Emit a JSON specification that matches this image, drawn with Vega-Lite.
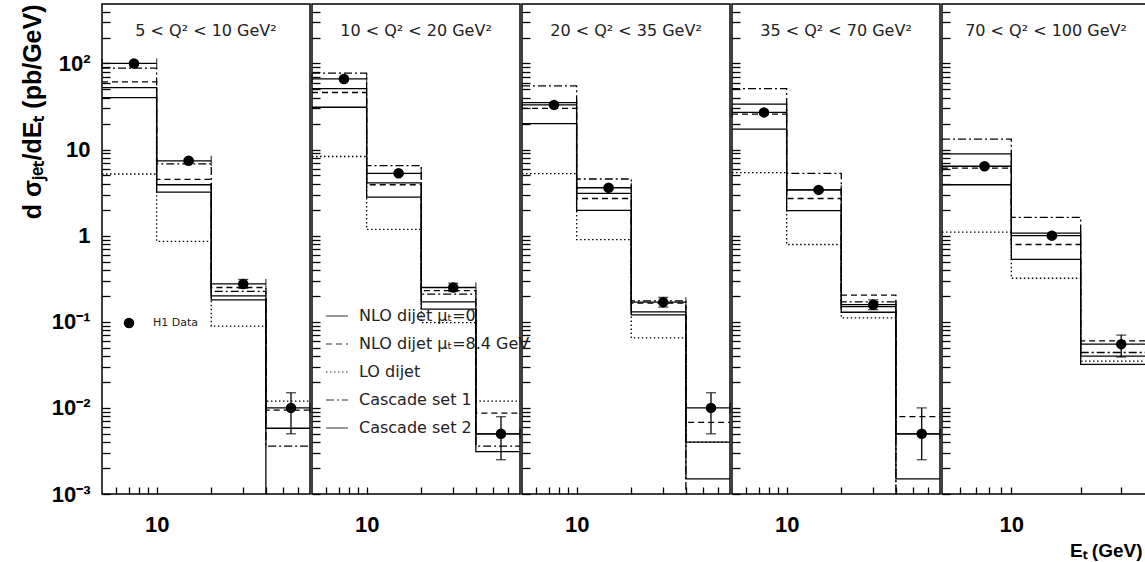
{
  "$schema": "https://vega.github.io/schema/vega-lite/v6.json",
  "background": "white",
  "padding": {"left": 19, "top": 3, "right": 0, "bottom": 0},
  "spacing": -7,
  "datasets": {
    "models": [
      {"p":1,"s":"NLO dijet μₜ=0","e":5,"v":40},{"p":1,"s":"NLO dijet μₜ=0","e":10,"v":3.2},{"p":1,"s":"NLO dijet μₜ=0","e":20,"v":0.18},{"p":1,"s":"NLO dijet μₜ=0","e":40,"v":0.0005},{"p":1,"s":"NLO dijet μₜ=0","e":70,"v":0.0005},
      {"p":1,"s":"NLO dijet μₜ=8.4 GeV","e":5,"v":61},{"p":1,"s":"NLO dijet μₜ=8.4 GeV","e":10,"v":4.5},{"p":1,"s":"NLO dijet μₜ=8.4 GeV","e":20,"v":0.25},{"p":1,"s":"NLO dijet μₜ=8.4 GeV","e":40,"v":0.0094},{"p":1,"s":"NLO dijet μₜ=8.4 GeV","e":70,"v":0.0094},
      {"p":1,"s":"LO dijet","e":5,"v":5.2},{"p":1,"s":"LO dijet","e":10,"v":0.86},{"p":1,"s":"LO dijet","e":20,"v":0.089},{"p":1,"s":"LO dijet","e":40,"v":0.012},{"p":1,"s":"LO dijet","e":70,"v":0.012},
      {"p":1,"s":"Cascade set 1","e":5,"v":88},{"p":1,"s":"Cascade set 1","e":10,"v":6.8},{"p":1,"s":"Cascade set 1","e":20,"v":0.225},{"p":1,"s":"Cascade set 1","e":40,"v":0.0036},{"p":1,"s":"Cascade set 1","e":70,"v":0.0036},
      {"p":1,"s":"Cascade set 2","e":5,"v":52.5},{"p":1,"s":"Cascade set 2","e":10,"v":3.9},{"p":1,"s":"Cascade set 2","e":20,"v":0.2},{"p":1,"s":"Cascade set 2","e":40,"v":0.0058},{"p":1,"s":"Cascade set 2","e":70,"v":0.0058},

      {"p":2,"s":"NLO dijet μₜ=0","e":5,"v":31},{"p":2,"s":"NLO dijet μₜ=0","e":10,"v":2.8},{"p":2,"s":"NLO dijet μₜ=0","e":20,"v":0.14},{"p":2,"s":"NLO dijet μₜ=0","e":40,"v":0.0031},{"p":2,"s":"NLO dijet μₜ=0","e":70,"v":0.0031},
      {"p":2,"s":"NLO dijet μₜ=8.4 GeV","e":5,"v":46},{"p":2,"s":"NLO dijet μₜ=8.4 GeV","e":10,"v":3.9},{"p":2,"s":"NLO dijet μₜ=8.4 GeV","e":20,"v":0.23},{"p":2,"s":"NLO dijet μₜ=8.4 GeV","e":40,"v":0.0087},{"p":2,"s":"NLO dijet μₜ=8.4 GeV","e":70,"v":0.0087},
      {"p":2,"s":"LO dijet","e":5,"v":8.3},{"p":2,"s":"LO dijet","e":10,"v":1.18},{"p":2,"s":"LO dijet","e":20,"v":0.098},{"p":2,"s":"LO dijet","e":40,"v":0.012},{"p":2,"s":"LO dijet","e":70,"v":0.012},
      {"p":2,"s":"Cascade set 1","e":5,"v":77},{"p":2,"s":"Cascade set 1","e":10,"v":6.5},{"p":2,"s":"Cascade set 1","e":20,"v":0.21},{"p":2,"s":"Cascade set 1","e":40,"v":0.0036},{"p":2,"s":"Cascade set 1","e":70,"v":0.0036},
      {"p":2,"s":"Cascade set 2","e":5,"v":51},{"p":2,"s":"Cascade set 2","e":10,"v":4.1},{"p":2,"s":"Cascade set 2","e":20,"v":0.17},{"p":2,"s":"Cascade set 2","e":40,"v":0.005},{"p":2,"s":"Cascade set 2","e":70,"v":0.005},

      {"p":3,"s":"NLO dijet μₜ=0","e":5,"v":20},{"p":3,"s":"NLO dijet μₜ=0","e":10,"v":1.97},{"p":3,"s":"NLO dijet μₜ=0","e":20,"v":0.12},{"p":3,"s":"NLO dijet μₜ=0","e":40,"v":0.0015},{"p":3,"s":"NLO dijet μₜ=0","e":70,"v":0.0015},
      {"p":3,"s":"NLO dijet μₜ=8.4 GeV","e":5,"v":30},{"p":3,"s":"NLO dijet μₜ=8.4 GeV","e":10,"v":2.7},{"p":3,"s":"NLO dijet μₜ=8.4 GeV","e":20,"v":0.165},{"p":3,"s":"NLO dijet μₜ=8.4 GeV","e":40,"v":0.0068},{"p":3,"s":"NLO dijet μₜ=8.4 GeV","e":70,"v":0.0068},
      {"p":3,"s":"LO dijet","e":5,"v":5.25},{"p":3,"s":"LO dijet","e":10,"v":0.9},{"p":3,"s":"LO dijet","e":20,"v":0.065},{"p":3,"s":"LO dijet","e":40,"v":0.004},{"p":3,"s":"LO dijet","e":70,"v":0.004},
      {"p":3,"s":"Cascade set 1","e":5,"v":55},{"p":3,"s":"Cascade set 1","e":10,"v":4.55},{"p":3,"s":"Cascade set 1","e":20,"v":0.175},{"p":3,"s":"Cascade set 1","e":40,"v":0.0005},{"p":3,"s":"Cascade set 1","e":70,"v":0.0005},
      {"p":3,"s":"Cascade set 2","e":5,"v":35},{"p":3,"s":"Cascade set 2","e":10,"v":3.1},{"p":3,"s":"Cascade set 2","e":20,"v":0.13},{"p":3,"s":"Cascade set 2","e":40,"v":0.004},{"p":3,"s":"Cascade set 2","e":70,"v":0.004},

      {"p":4,"s":"NLO dijet μₜ=0","e":5,"v":17.3},{"p":4,"s":"NLO dijet μₜ=0","e":10,"v":1.95},{"p":4,"s":"NLO dijet μₜ=0","e":20,"v":0.129},{"p":4,"s":"NLO dijet μₜ=0","e":40,"v":0.0015},{"p":4,"s":"NLO dijet μₜ=0","e":70,"v":0.0015},
      {"p":4,"s":"NLO dijet μₜ=8.4 GeV","e":5,"v":25.8},{"p":4,"s":"NLO dijet μₜ=8.4 GeV","e":10,"v":2.7},{"p":4,"s":"NLO dijet μₜ=8.4 GeV","e":20,"v":0.204},{"p":4,"s":"NLO dijet μₜ=8.4 GeV","e":40,"v":0.0079},{"p":4,"s":"NLO dijet μₜ=8.4 GeV","e":70,"v":0.0079},
      {"p":4,"s":"LO dijet","e":5,"v":5.4},{"p":4,"s":"LO dijet","e":10,"v":0.79},{"p":4,"s":"LO dijet","e":20,"v":0.111},{"p":4,"s":"LO dijet","e":40,"v":0.0005},{"p":4,"s":"LO dijet","e":70,"v":0.0005},
      {"p":4,"s":"Cascade set 1","e":5,"v":51},{"p":4,"s":"Cascade set 1","e":10,"v":5.3},{"p":4,"s":"Cascade set 1","e":20,"v":0.17},{"p":4,"s":"Cascade set 1","e":40,"v":0.0005},{"p":4,"s":"Cascade set 1","e":70,"v":0.0005},
      {"p":4,"s":"Cascade set 2","e":5,"v":33.7},{"p":4,"s":"Cascade set 2","e":10,"v":3.4},{"p":4,"s":"Cascade set 2","e":20,"v":0.15},{"p":4,"s":"Cascade set 2","e":40,"v":0.005},{"p":4,"s":"Cascade set 2","e":70,"v":0.005},

      {"p":5,"s":"NLO dijet μₜ=0","e":5,"v":3.9},{"p":5,"s":"NLO dijet μₜ=0","e":10,"v":0.53},{"p":5,"s":"NLO dijet μₜ=0","e":20,"v":0.032},{"p":5,"s":"NLO dijet μₜ=0","e":40,"v":0.032},
      {"p":5,"s":"NLO dijet μₜ=8.4 GeV","e":5,"v":6.1},{"p":5,"s":"NLO dijet μₜ=8.4 GeV","e":10,"v":0.79},{"p":5,"s":"NLO dijet μₜ=8.4 GeV","e":20,"v":0.06},{"p":5,"s":"NLO dijet μₜ=8.4 GeV","e":40,"v":0.06},
      {"p":5,"s":"LO dijet","e":5,"v":1.1},{"p":5,"s":"LO dijet","e":10,"v":0.32},{"p":5,"s":"LO dijet","e":20,"v":0.035},{"p":5,"s":"LO dijet","e":40,"v":0.035},
      {"p":5,"s":"Cascade set 1","e":5,"v":13.2},{"p":5,"s":"Cascade set 1","e":10,"v":1.63},{"p":5,"s":"Cascade set 1","e":20,"v":0.044},{"p":5,"s":"Cascade set 1","e":40,"v":0.044},
      {"p":5,"s":"Cascade set 2","e":5,"v":8.9},{"p":5,"s":"Cascade set 2","e":10,"v":1.07},{"p":5,"s":"Cascade set 2","e":20,"v":0.04},{"p":5,"s":"Cascade set 2","e":40,"v":0.04}
    ],
    "h1": [
      {"p":1,"src":"H1 Data","x":7.5,"y":100,"lo":96,"hi":104,"x1":5,"x2":10},
      {"p":1,"src":"H1 Data","x":15,"y":7.4,"lo":7.1,"hi":7.7,"x1":10,"x2":20},
      {"p":1,"src":"H1 Data","x":30,"y":0.275,"lo":0.245,"hi":0.31,"x1":20,"x2":40},
      {"p":1,"src":"H1 Data","x":55,"y":0.01,"lo":0.005,"hi":0.015,"x1":40,"x2":70},
      {"p":2,"src":"H1 Data","x":7.5,"y":66,"lo":63,"hi":69,"x1":5,"x2":10},
      {"p":2,"src":"H1 Data","x":15,"y":5.3,"lo":5.1,"hi":5.5,"x1":10,"x2":20},
      {"p":2,"src":"H1 Data","x":30,"y":0.25,"lo":0.225,"hi":0.28,"x1":20,"x2":40},
      {"p":2,"src":"H1 Data","x":55,"y":0.005,"lo":0.0025,"hi":0.0079,"x1":40,"x2":70},
      {"p":3,"src":"H1 Data","x":7.5,"y":33,"lo":31.7,"hi":34.3,"x1":5,"x2":10},
      {"p":3,"src":"H1 Data","x":15,"y":3.6,"lo":3.45,"hi":3.75,"x1":10,"x2":20},
      {"p":3,"src":"H1 Data","x":30,"y":0.169,"lo":0.148,"hi":0.192,"x1":20,"x2":40},
      {"p":3,"src":"H1 Data","x":55,"y":0.01,"lo":0.005,"hi":0.015,"x1":40,"x2":70},
      {"p":4,"src":"H1 Data","x":7.5,"y":27,"lo":25.9,"hi":28.1,"x1":5,"x2":10},
      {"p":4,"src":"H1 Data","x":15,"y":3.4,"lo":3.26,"hi":3.54,"x1":10,"x2":20},
      {"p":4,"src":"H1 Data","x":30,"y":0.158,"lo":0.138,"hi":0.18,"x1":20,"x2":40},
      {"p":4,"src":"H1 Data","x":55.5,"y":0.005,"lo":0.0025,"hi":0.01,"x1":40,"x2":70},
      {"p":5,"src":"H1 Data","x":7.65,"y":6.4,"lo":6.1,"hi":6.7,"x1":5,"x2":10},
      {"p":5,"src":"H1 Data","x":15,"y":1.0,"lo":0.95,"hi":1.05,"x1":10,"x2":20},
      {"p":5,"src":"H1 Data","x":30,"y":0.055,"lo":0.039,"hi":0.07,"x1":20,"x2":40}
    ]
  },
  "hconcat": [
    {
      "width": 208, "height": 490,
      "title": {"text": "5 < Q² < 10 GeV²"},
      "layer": [
        {
          "data": {"name": "models"},
          "transform": [{"filter": "datum.p == 1"}],
          "mark": {"type": "line", "interpolate": "step-after", "clip": true, "color": "black", "strokeWidth": 1.3},
          "encoding": {
            "x": {"field": "e", "type": "quantitative", "scale": {"type": "log", "domain": [5, 70], "nice": false},
                  "axis": {"orient": "bottom", "values": [6,7,8,9,10,20,30,40,50,60], "labelExpr": "datum.value == 10 ? '10' : ''", "tickSize": 7, "offset": -7, "labelPadding": 20, "labelFlush": false, "labelBaseline": "top", "labelFontSize": 22, "title": null}},
            "y": {"field": "v", "type": "quantitative", "scale": {"type": "log", "domain": [0.001, 490], "nice": false},
                  "axis": {"orient": "left", "values": [0.001,0.002,0.003,0.004,0.005,0.006,0.007,0.008,0.009,0.01,0.02,0.03,0.04,0.05,0.06,0.07,0.08,0.09,0.1,0.2,0.3,0.4,0.5,0.6,0.7,0.8,0.9,1,2,3,4,5,6,7,8,9,10,20,30,40,50,60,70,80,90,100,200,300,400],
                           "labelExpr": "datum.value == 100 ? '10²' : datum.value == 10 ? '10' : datum.value == 1 ? '1' : datum.value == 0.1 ? '10⁻¹' : datum.value == 0.01 ? '10⁻²' : datum.value == 0.001 ? '10⁻³' : ''",
                           "tickSize": 8, "offset": -8, "labelPadding": 12, "labelFontSize": 22, "labelBaseline": "middle",
                           "title": "d σⱼₑₜ/dEₜ (pb/GeV)", "titleFontSize": 25, "titleAnchor": "end", "titlePadding": 6}},
            "strokeDash": {"field": "s", "type": "nominal",
                           "scale": {"domain": ["NLO dijet μₜ=0", "NLO dijet μₜ=8.4 GeV", "LO dijet", "Cascade set 1", "Cascade set 2"], "range": [[1,0],[6,4],[1.5,2.5],[8,3,2,3],[1,0]]},
                           "legend": {"orient": "none", "legendX": 223, "legendY": 300, "title": null, "symbolType": "stroke", "symbolSize": 484, "symbolStrokeColor": "#333", "symbolStrokeWidth": 1.2, "labelFont": "DejaVu Sans", "labelFontSize": 16, "labelFontWeight": "normal", "labelColor": "#222", "labelOffset": 10, "labelLimit": 400, "rowPadding": 8}}
          }
        },
        {
          "data": {"name": "h1"},
          "transform": [{"filter": "datum.p == 1"}],
          "mark": {"type": "rule", "color": "black", "strokeWidth": 1.3},
          "encoding": {
            "x": {"field": "x", "type": "quantitative"},
            "y": {"field": "lo", "type": "quantitative"},
            "y2": {"field": "hi"}
          }
        },
        {
          "data": {"name": "h1"},
          "transform": [{"filter": "datum.p == 1"}, {"fold": ["lo", "hi"], "as": ["end", "val"]}],
          "mark": {"type": "tick", "orient": "horizontal", "size": 10, "thickness": 1.3, "color": "black"},
          "encoding": {
            "x": {"field": "x", "type": "quantitative"},
            "y": {"field": "val", "type": "quantitative"}
          }
        },
        {
          "data": {"name": "h1"},
          "transform": [{"filter": "datum.p == 1"}],
          "mark": {"type": "rule", "color": "black", "strokeWidth": 1.3},
          "encoding": {
            "y": {"field": "y", "type": "quantitative"},
            "x": {"field": "x1", "type": "quantitative"},
            "x2": {"field": "x2"}
          }
        },
        {
          "data": {"name": "h1"},
          "transform": [{"filter": "datum.p == 1"}, {"fold": ["x1", "x2"], "as": ["end", "edge"]}],
          "mark": {"type": "tick", "orient": "vertical", "size": 10, "thickness": 1.3, "color": "black"},
          "encoding": {
            "x": {"field": "edge", "type": "quantitative"},
            "y": {"field": "y", "type": "quantitative"}
          }
        },
        {
          "data": {"name": "h1"},
          "transform": [{"filter": "datum.p == 1"}],
          "mark": {"type": "point", "filled": true, "size": 110, "color": "black", "opacity": 1},
          "encoding": {
            "x": {"field": "x", "type": "quantitative"},
            "y": {"field": "y", "type": "quantitative"},
            "shape": {"field": "src", "type": "nominal", "scale": {"range": ["circle"]},
                      "legend": {"orient": "none", "legendX": 21, "legendY": 313, "title": null, "symbolFillColor": "black", "symbolStrokeColor": "black", "symbolSize": 110, "labelFont": "DejaVu Sans", "labelFontSize": 11, "labelFontWeight": "normal", "labelColor": "#222", "labelOffset": 18}}
          }
        }
      ]
    },
    {
      "width": 208, "height": 490,
      "title": {"text": "10 < Q² < 20 GeV²"},
      "layer": [
        {
          "data": {"name": "models"},
          "transform": [{"filter": "datum.p == 2"}],
          "mark": {"type": "line", "interpolate": "step-after", "clip": true, "color": "black", "strokeWidth": 1.3},
          "encoding": {
            "x": {"field": "e", "type": "quantitative", "scale": {"type": "log", "domain": [5, 70], "nice": false},
                  "axis": {"orient": "bottom", "values": [6,7,8,9,10,20,30,40,50,60], "labelExpr": "datum.value == 10 ? '10' : ''", "tickSize": 7, "offset": -7, "labelPadding": 20, "labelFlush": false, "labelBaseline": "top", "labelFontSize": 22, "title": null}},
            "y": {"field": "v", "type": "quantitative", "scale": {"type": "log", "domain": [0.001, 490], "nice": false},
                  "axis": {"orient": "left", "values": [0.001,0.002,0.003,0.004,0.005,0.006,0.007,0.008,0.009,0.01,0.02,0.03,0.04,0.05,0.06,0.07,0.08,0.09,0.1,0.2,0.3,0.4,0.5,0.6,0.7,0.8,0.9,1,2,3,4,5,6,7,8,9,10,20,30,40,50,60,70,80,90,100,200,300,400], "labels": false, "tickSize": 8, "offset": -8, "title": null}},
            "strokeDash": {"field": "s", "type": "nominal",
                           "scale": {"domain": ["NLO dijet μₜ=0", "NLO dijet μₜ=8.4 GeV", "LO dijet", "Cascade set 1", "Cascade set 2"], "range": [[1,0],[6,4],[1.5,2.5],[8,3,2,3],[1,0]]},
                           "legend": {"orient": "none", "legendX": 223, "legendY": 300, "title": null, "symbolType": "stroke", "symbolSize": 484, "symbolStrokeColor": "#333", "symbolStrokeWidth": 1.2, "labelFont": "DejaVu Sans", "labelFontSize": 16, "labelFontWeight": "normal", "labelColor": "#222", "labelOffset": 10, "labelLimit": 400, "rowPadding": 8}}
          }
        },
        {
          "data": {"name": "h1"},
          "transform": [{"filter": "datum.p == 2"}],
          "mark": {"type": "rule", "color": "black", "strokeWidth": 1.3},
          "encoding": {
            "x": {"field": "x", "type": "quantitative"},
            "y": {"field": "lo", "type": "quantitative"},
            "y2": {"field": "hi"}
          }
        },
        {
          "data": {"name": "h1"},
          "transform": [{"filter": "datum.p == 2"}, {"fold": ["lo", "hi"], "as": ["end", "val"]}],
          "mark": {"type": "tick", "orient": "horizontal", "size": 10, "thickness": 1.3, "color": "black"},
          "encoding": {
            "x": {"field": "x", "type": "quantitative"},
            "y": {"field": "val", "type": "quantitative"}
          }
        },
        {
          "data": {"name": "h1"},
          "transform": [{"filter": "datum.p == 2"}],
          "mark": {"type": "rule", "color": "black", "strokeWidth": 1.3},
          "encoding": {
            "y": {"field": "y", "type": "quantitative"},
            "x": {"field": "x1", "type": "quantitative"},
            "x2": {"field": "x2"}
          }
        },
        {
          "data": {"name": "h1"},
          "transform": [{"filter": "datum.p == 2"}, {"fold": ["x1", "x2"], "as": ["end", "edge"]}],
          "mark": {"type": "tick", "orient": "vertical", "size": 10, "thickness": 1.3, "color": "black"},
          "encoding": {
            "x": {"field": "edge", "type": "quantitative"},
            "y": {"field": "y", "type": "quantitative"}
          }
        },
        {
          "data": {"name": "h1"},
          "transform": [{"filter": "datum.p == 2"}],
          "mark": {"type": "point", "filled": true, "size": 110, "color": "black", "opacity": 1},
          "encoding": {
            "x": {"field": "x", "type": "quantitative"},
            "y": {"field": "y", "type": "quantitative"},
            "shape": {"field": "src", "type": "nominal", "scale": {"range": ["circle"]},
                      "legend": {"orient": "none", "legendX": 21, "legendY": 313, "title": null, "symbolFillColor": "black", "symbolStrokeColor": "black", "symbolSize": 110, "labelFont": "DejaVu Sans", "labelFontSize": 11, "labelFontWeight": "normal", "labelColor": "#222", "labelOffset": 18}}
          }
        }
      ]
    },
    {
      "width": 208, "height": 490,
      "title": {"text": "20 < Q² < 35 GeV²"},
      "layer": [
        {
          "data": {"name": "models"},
          "transform": [{"filter": "datum.p == 3"}],
          "mark": {"type": "line", "interpolate": "step-after", "clip": true, "color": "black", "strokeWidth": 1.3},
          "encoding": {
            "x": {"field": "e", "type": "quantitative", "scale": {"type": "log", "domain": [5, 70], "nice": false},
                  "axis": {"orient": "bottom", "values": [6,7,8,9,10,20,30,40,50,60], "labelExpr": "datum.value == 10 ? '10' : ''", "tickSize": 7, "offset": -7, "labelPadding": 20, "labelFlush": false, "labelBaseline": "top", "labelFontSize": 22, "title": null}},
            "y": {"field": "v", "type": "quantitative", "scale": {"type": "log", "domain": [0.001, 490], "nice": false},
                  "axis": {"orient": "left", "values": [0.001,0.002,0.003,0.004,0.005,0.006,0.007,0.008,0.009,0.01,0.02,0.03,0.04,0.05,0.06,0.07,0.08,0.09,0.1,0.2,0.3,0.4,0.5,0.6,0.7,0.8,0.9,1,2,3,4,5,6,7,8,9,10,20,30,40,50,60,70,80,90,100,200,300,400], "labels": false, "tickSize": 8, "offset": -8, "title": null}},
            "strokeDash": {"field": "s", "type": "nominal",
                           "scale": {"domain": ["NLO dijet μₜ=0", "NLO dijet μₜ=8.4 GeV", "LO dijet", "Cascade set 1", "Cascade set 2"], "range": [[1,0],[6,4],[1.5,2.5],[8,3,2,3],[1,0]]},
                           "legend": {"orient": "none", "legendX": 223, "legendY": 300, "title": null, "symbolType": "stroke", "symbolSize": 484, "symbolStrokeColor": "#333", "symbolStrokeWidth": 1.2, "labelFont": "DejaVu Sans", "labelFontSize": 16, "labelFontWeight": "normal", "labelColor": "#222", "labelOffset": 10, "labelLimit": 400, "rowPadding": 8}}
          }
        },
        {
          "data": {"name": "h1"},
          "transform": [{"filter": "datum.p == 3"}],
          "mark": {"type": "rule", "color": "black", "strokeWidth": 1.3},
          "encoding": {
            "x": {"field": "x", "type": "quantitative"},
            "y": {"field": "lo", "type": "quantitative"},
            "y2": {"field": "hi"}
          }
        },
        {
          "data": {"name": "h1"},
          "transform": [{"filter": "datum.p == 3"}, {"fold": ["lo", "hi"], "as": ["end", "val"]}],
          "mark": {"type": "tick", "orient": "horizontal", "size": 10, "thickness": 1.3, "color": "black"},
          "encoding": {
            "x": {"field": "x", "type": "quantitative"},
            "y": {"field": "val", "type": "quantitative"}
          }
        },
        {
          "data": {"name": "h1"},
          "transform": [{"filter": "datum.p == 3"}],
          "mark": {"type": "rule", "color": "black", "strokeWidth": 1.3},
          "encoding": {
            "y": {"field": "y", "type": "quantitative"},
            "x": {"field": "x1", "type": "quantitative"},
            "x2": {"field": "x2"}
          }
        },
        {
          "data": {"name": "h1"},
          "transform": [{"filter": "datum.p == 3"}, {"fold": ["x1", "x2"], "as": ["end", "edge"]}],
          "mark": {"type": "tick", "orient": "vertical", "size": 10, "thickness": 1.3, "color": "black"},
          "encoding": {
            "x": {"field": "edge", "type": "quantitative"},
            "y": {"field": "y", "type": "quantitative"}
          }
        },
        {
          "data": {"name": "h1"},
          "transform": [{"filter": "datum.p == 3"}],
          "mark": {"type": "point", "filled": true, "size": 110, "color": "black", "opacity": 1},
          "encoding": {
            "x": {"field": "x", "type": "quantitative"},
            "y": {"field": "y", "type": "quantitative"},
            "shape": {"field": "src", "type": "nominal", "scale": {"range": ["circle"]},
                      "legend": {"orient": "none", "legendX": 21, "legendY": 313, "title": null, "symbolFillColor": "black", "symbolStrokeColor": "black", "symbolSize": 110, "labelFont": "DejaVu Sans", "labelFontSize": 11, "labelFontWeight": "normal", "labelColor": "#222", "labelOffset": 18}}
          }
        }
      ]
    },
    {
      "width": 208, "height": 490,
      "title": {"text": "35 < Q² < 70 GeV²"},
      "layer": [
        {
          "data": {"name": "models"},
          "transform": [{"filter": "datum.p == 4"}],
          "mark": {"type": "line", "interpolate": "step-after", "clip": true, "color": "black", "strokeWidth": 1.3},
          "encoding": {
            "x": {"field": "e", "type": "quantitative", "scale": {"type": "log", "domain": [5, 70], "nice": false},
                  "axis": {"orient": "bottom", "values": [6,7,8,9,10,20,30,40,50,60], "labelExpr": "datum.value == 10 ? '10' : ''", "tickSize": 7, "offset": -7, "labelPadding": 20, "labelFlush": false, "labelBaseline": "top", "labelFontSize": 22, "title": null}},
            "y": {"field": "v", "type": "quantitative", "scale": {"type": "log", "domain": [0.001, 490], "nice": false},
                  "axis": {"orient": "left", "values": [0.001,0.002,0.003,0.004,0.005,0.006,0.007,0.008,0.009,0.01,0.02,0.03,0.04,0.05,0.06,0.07,0.08,0.09,0.1,0.2,0.3,0.4,0.5,0.6,0.7,0.8,0.9,1,2,3,4,5,6,7,8,9,10,20,30,40,50,60,70,80,90,100,200,300,400], "labels": false, "tickSize": 8, "offset": -8, "title": null}},
            "strokeDash": {"field": "s", "type": "nominal",
                           "scale": {"domain": ["NLO dijet μₜ=0", "NLO dijet μₜ=8.4 GeV", "LO dijet", "Cascade set 1", "Cascade set 2"], "range": [[1,0],[6,4],[1.5,2.5],[8,3,2,3],[1,0]]},
                           "legend": {"orient": "none", "legendX": 223, "legendY": 300, "title": null, "symbolType": "stroke", "symbolSize": 484, "symbolStrokeColor": "#333", "symbolStrokeWidth": 1.2, "labelFont": "DejaVu Sans", "labelFontSize": 16, "labelFontWeight": "normal", "labelColor": "#222", "labelOffset": 10, "labelLimit": 400, "rowPadding": 8}}
          }
        },
        {
          "data": {"name": "h1"},
          "transform": [{"filter": "datum.p == 4"}],
          "mark": {"type": "rule", "color": "black", "strokeWidth": 1.3},
          "encoding": {
            "x": {"field": "x", "type": "quantitative"},
            "y": {"field": "lo", "type": "quantitative"},
            "y2": {"field": "hi"}
          }
        },
        {
          "data": {"name": "h1"},
          "transform": [{"filter": "datum.p == 4"}, {"fold": ["lo", "hi"], "as": ["end", "val"]}],
          "mark": {"type": "tick", "orient": "horizontal", "size": 10, "thickness": 1.3, "color": "black"},
          "encoding": {
            "x": {"field": "x", "type": "quantitative"},
            "y": {"field": "val", "type": "quantitative"}
          }
        },
        {
          "data": {"name": "h1"},
          "transform": [{"filter": "datum.p == 4"}],
          "mark": {"type": "rule", "color": "black", "strokeWidth": 1.3},
          "encoding": {
            "y": {"field": "y", "type": "quantitative"},
            "x": {"field": "x1", "type": "quantitative"},
            "x2": {"field": "x2"}
          }
        },
        {
          "data": {"name": "h1"},
          "transform": [{"filter": "datum.p == 4"}, {"fold": ["x1", "x2"], "as": ["end", "edge"]}],
          "mark": {"type": "tick", "orient": "vertical", "size": 10, "thickness": 1.3, "color": "black"},
          "encoding": {
            "x": {"field": "edge", "type": "quantitative"},
            "y": {"field": "y", "type": "quantitative"}
          }
        },
        {
          "data": {"name": "h1"},
          "transform": [{"filter": "datum.p == 4"}],
          "mark": {"type": "point", "filled": true, "size": 110, "color": "black", "opacity": 1},
          "encoding": {
            "x": {"field": "x", "type": "quantitative"},
            "y": {"field": "y", "type": "quantitative"},
            "shape": {"field": "src", "type": "nominal", "scale": {"range": ["circle"]},
                      "legend": {"orient": "none", "legendX": 21, "legendY": 313, "title": null, "symbolFillColor": "black", "symbolStrokeColor": "black", "symbolSize": 110, "labelFont": "DejaVu Sans", "labelFontSize": 11, "labelFontWeight": "normal", "labelColor": "#222", "labelOffset": 18}}
          }
        }
      ]
    },
    {
      "width": 208, "height": 490,
      "title": {"text": "70 < Q² < 100 GeV²"},
      "layer": [
        {
          "data": {"name": "models"},
          "transform": [{"filter": "datum.p == 5"}],
          "mark": {"type": "line", "interpolate": "step-after", "clip": true, "color": "black", "strokeWidth": 1.3},
          "encoding": {
            "x": {"field": "e", "type": "quantitative", "scale": {"type": "log", "domain": [5, 40], "nice": false},
                  "axis": {"orient": "bottom", "values": [6,7,8,9,10,20,30], "labelExpr": "datum.value == 10 ? '10' : ''", "tickSize": 7, "offset": -7, "labelPadding": 20, "labelFlush": false, "labelBaseline": "top", "labelFontSize": 22,
                           "title": "Eₜ (GeV)", "titleFontSize": 19, "titleX": 200, "titleAlign": "right", "titleY": 69, "titleBaseline": "alphabetic"}},
            "y": {"field": "v", "type": "quantitative", "scale": {"type": "log", "domain": [0.001, 490], "nice": false},
                  "axis": {"orient": "left", "values": [0.001,0.002,0.003,0.004,0.005,0.006,0.007,0.008,0.009,0.01,0.02,0.03,0.04,0.05,0.06,0.07,0.08,0.09,0.1,0.2,0.3,0.4,0.5,0.6,0.7,0.8,0.9,1,2,3,4,5,6,7,8,9,10,20,30,40,50,60,70,80,90,100,200,300,400], "labels": false, "tickSize": 8, "offset": -8, "title": null}},
            "strokeDash": {"field": "s", "type": "nominal",
                           "scale": {"domain": ["NLO dijet μₜ=0", "NLO dijet μₜ=8.4 GeV", "LO dijet", "Cascade set 1", "Cascade set 2"], "range": [[1,0],[6,4],[1.5,2.5],[8,3,2,3],[1,0]]},
                           "legend": {"orient": "none", "legendX": 223, "legendY": 300, "title": null, "symbolType": "stroke", "symbolSize": 484, "symbolStrokeColor": "#333", "symbolStrokeWidth": 1.2, "labelFont": "DejaVu Sans", "labelFontSize": 16, "labelFontWeight": "normal", "labelColor": "#222", "labelOffset": 10, "labelLimit": 400, "rowPadding": 8}}
          }
        },
        {
          "data": {"name": "h1"},
          "transform": [{"filter": "datum.p == 5"}],
          "mark": {"type": "rule", "color": "black", "strokeWidth": 1.3},
          "encoding": {
            "x": {"field": "x", "type": "quantitative"},
            "y": {"field": "lo", "type": "quantitative"},
            "y2": {"field": "hi"}
          }
        },
        {
          "data": {"name": "h1"},
          "transform": [{"filter": "datum.p == 5"}, {"fold": ["lo", "hi"], "as": ["end", "val"]}],
          "mark": {"type": "tick", "orient": "horizontal", "size": 10, "thickness": 1.3, "color": "black"},
          "encoding": {
            "x": {"field": "x", "type": "quantitative"},
            "y": {"field": "val", "type": "quantitative"}
          }
        },
        {
          "data": {"name": "h1"},
          "transform": [{"filter": "datum.p == 5"}],
          "mark": {"type": "rule", "color": "black", "strokeWidth": 1.3},
          "encoding": {
            "y": {"field": "y", "type": "quantitative"},
            "x": {"field": "x1", "type": "quantitative"},
            "x2": {"field": "x2"}
          }
        },
        {
          "data": {"name": "h1"},
          "transform": [{"filter": "datum.p == 5"}, {"fold": ["x1", "x2"], "as": ["end", "edge"]}],
          "mark": {"type": "tick", "orient": "vertical", "size": 10, "thickness": 1.3, "color": "black"},
          "encoding": {
            "x": {"field": "edge", "type": "quantitative"},
            "y": {"field": "y", "type": "quantitative"}
          }
        },
        {
          "data": {"name": "h1"},
          "transform": [{"filter": "datum.p == 5"}],
          "mark": {"type": "point", "filled": true, "size": 110, "color": "black", "opacity": 1},
          "encoding": {
            "x": {"field": "x", "type": "quantitative"},
            "y": {"field": "y", "type": "quantitative"},
            "shape": {"field": "src", "type": "nominal", "scale": {"range": ["circle"]},
                      "legend": {"orient": "none", "legendX": 21, "legendY": 313, "title": null, "symbolFillColor": "black", "symbolStrokeColor": "black", "symbolSize": 110, "labelFont": "DejaVu Sans", "labelFontSize": 11, "labelFontWeight": "normal", "labelColor": "#222", "labelOffset": 18}}
          }
        }
      ]
    }
  ],
  "config": {
    "view": {"stroke": "black", "strokeWidth": 1.5},
    "title": {"offset": -35, "fontSize": 16, "font": "DejaVu Sans", "fontWeight": "normal", "color": "#222", "anchor": "middle"},
    "axis": {"domain": false, "grid": false, "ticks": true, "zindex": 1, "tickColor": "black", "tickOpacity": 1, "tickWidth": 1.3, "labelFont": "Liberation Sans", "labelFontWeight": "bold", "labelColor": "black", "titleFont": "Liberation Sans", "titleFontWeight": "bold", "titleColor": "black"}
  }
}
